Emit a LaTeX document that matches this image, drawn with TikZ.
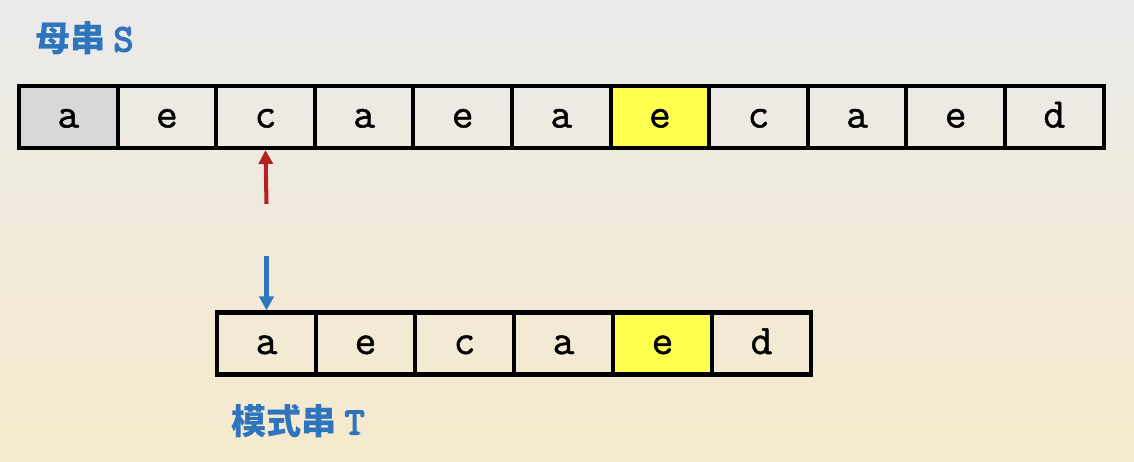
\documentclass[tikz,border=0pt]{standalone}
\usepackage{fontspec}
\newfontfamily\cellfont[FakeBold=1.2]{Latin Modern Mono}
\newfontfamily\lettermono[FakeBold=4]{Latin Modern Mono}
\newfontfamily\cjk{Noto Sans CJK SC}
\usetikzlibrary{arrows.meta}
\definecolor{labelblue}{RGB}{46,117,190}
\definecolor{arrowred}{RGB}{178,34,34}
\definecolor{hiyellow}{RGB}{255,255,77}
\definecolor{startgray}{RGB}{216,216,216}
\definecolor{bgtop}{RGB}{234,234,234}
\definecolor{bgmid}{RGB}{251,246,234}
\definecolor{bgbottom}{RGB}{246,234,204}
\tikzset{
  cell/.style={draw,line width=2.3pt,minimum width=1.97cm,minimum height=1.24cm,
    inner sep=0pt,text height=12pt,text depth=0pt,font=\cellfont\fontsize{24}{24}\selectfont},
  strlabel/.style={anchor=west,text=labelblue,font=\cjk\bfseries\fontsize{20}{20}\selectfont},
  pointer/.style={line width=2.3pt,-{Triangle[width=0.28cm,length=0.28cm]}}
}

\begin{document}
\begin{tikzpicture}
\useasboundingbox (0,0) rectangle (22.68,9.24);
\shade[top color=bgtop,middle color=bgmid,bottom color=bgbottom] (0,0) rectangle (22.68,9.24);
%main string S
\begin{scope}[shift={(1.366,6.9)},x=1.972cm]
\node[cell,fill=startgray] (s1) at (0,0) {a};
\node[cell] (s2) at (1,0) {e};
\node[cell] (s3) at (2,0) {c};
\node[cell] (s4) at (3,0) {a};
\node[cell] (s5) at (4,0) {e};
\node[cell] (s6) at (5,0) {a};
\node[cell,fill=hiyellow] (s7) at (6,0) {e};
\node[cell] (s8) at (7,0) {c};
\node[cell] (s9) at (8,0) {a};
\node[cell] (s10) at (9,0) {e};
\node[cell] (s11) at (10,0) {d};
\end{scope}
%pattern T
\begin{scope}[shift={(5.33,2.37)},x=1.98cm]
\node[cell] (t1) at (0,0) {a};
\node[cell] (t2) at (1,0) {e};
\node[cell] (t3) at (2,0) {c};
\node[cell] (t4) at (3,0) {a};
\node[cell,fill=hiyellow] (t5) at (4,0) {e};
\node[cell] (t6) at (5,0) {d};
\end{scope}
\node[strlabel] (slabel) at (0.58,8.48) {母串 {\lettermono\fontsize{22}{22}\selectfont S}};
\node[strlabel] (tlabel) at (4.5,0.82) {模式串 {\lettermono\fontsize{22}{22}\selectfont T}};
\coordinate (redtail) at (5.33,5.16);
\coordinate (bluetail) at (5.33,4.12);
\draw[pointer,arrowred] (redtail) -- (s3.south);
\draw[pointer,labelblue] (bluetail) -- (t1.north);
\end{tikzpicture}
\end{document}
